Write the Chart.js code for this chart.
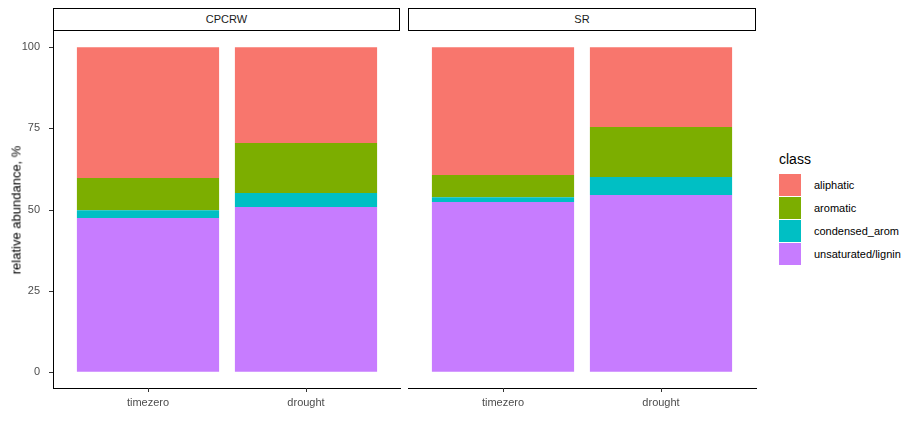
<!DOCTYPE html>
<html>
<head>
<meta charset="utf-8">
<script src="https://cdn.jsdelivr.net/npm/chart.js@4"></script>
<style>
  body { margin: 0; width: 923px; height: 433px; background: #fff; font-family: "Liberation Sans", Arial, sans-serif; position: relative; overflow: hidden; }
  .panel { position: absolute; top: 0; height: 433px; }
  .strip { position: absolute; top: 8px; height: 21px; border: 1.5px solid #000; box-sizing: content-box; background: #fff;
           font-size: 11px; color: #1a1a1a; text-align: center; line-height: 21px; }
  .ytitle { position: absolute; left: 16px; top: 210px; transform: translate(-50%, -50%) rotate(-90deg); font-size: 13px; font-weight: normal; white-space: nowrap; color: #000; }
  .legend { position: absolute; left: 779px; top: 151px; font-size: 11px; color: #000; }
  .legend .title { font-size: 14px; margin-bottom: 6px; }
  .legend .row { display: flex; align-items: center; height: 23px; }
  .legend .key { width: 22px; height: 22px; margin-right: 13px; }
</style>
</head>
<body>
<div class="panel" style="left:0;width:405px"><canvas id="c1" width="405" height="433"></canvas></div>
<div class="panel" style="left:408px;width:352px"><canvas id="c2" width="352" height="433"></canvas></div>
<div class="strip" style="left:53px;width:345px">CPCRW</div>
<div class="strip" style="left:408px;width:346px">SR</div>
<div class="ytitle">relative abundance, %</div>
<div class="legend" id="legend"><div class="title">class</div></div>
<script>
const treatments = ["timezero", "drought"];
const classes = ["unsaturated/lignin", "condensed_arom", "aromatic", "aliphatic"];
const colors = ["#C77CFF", "#00BFC4", "#7CAE00", "#F8766D"];
const legendOrder = ["aliphatic", "aromatic", "condensed_arom", "unsaturated/lignin"];
const yTicks = [0, 25, 50, 75, 100];

// values per class, [timezero, drought]
const cpcrw = {
  "unsaturated/lignin": [47.4, 50.8],
  "condensed_arom": [2.4, 4.3],
  "aromatic": [9.9, 15.4],
  "aliphatic": [40.3, 29.5]
};
const sr = {
  "unsaturated/lignin": [52.3, 54.5],
  "condensed_arom": [1.5, 5.5],
  "aromatic": [6.8, 15.4],
  "aliphatic": [39.4, 24.6]
};

// draws the panel's axis lines across the full panel width (ggplot expansion)
function axisPlugin(x0, x1, drawY) {
  return {
    id: "axes",
    afterDraw(chart) {
      const ctx = chart.ctx, a = chart.chartArea, y = chart.scales.y;
      ctx.save();
      ctx.strokeStyle = "#000";
      ctx.lineWidth = 1;
      ctx.beginPath();
      ctx.moveTo(x0, a.bottom + 0.5); ctx.lineTo(x1, a.bottom + 0.5);
      if (drawY) { ctx.moveTo(x0 + 0.5, a.top); ctx.lineTo(x0 + 0.5, a.bottom + 0.5); }
      ctx.stroke();
      ctx.strokeStyle = "#333";
      ctx.beginPath();
      if (drawY) {
        yTicks.forEach(v => {
          const py = Math.round(y.getPixelForValue(v)) + 0.5;
          ctx.moveTo(x0 - 4, py); ctx.lineTo(x0, py);
        });
      }
      chart.scales.x.ticks.forEach((t, i) => {
        const px = Math.round(chart.scales.x.getPixelForTick(i)) + 0.5;
        ctx.moveTo(px, a.bottom); ctx.lineTo(px, a.bottom + 4);
      });
      ctx.stroke();
      ctx.restore();
    }
  };
}

function makeChart(id, facet, showY, padLeft, yWidth, x0, x1) {
  const datasets = classes.map((c, i) => ({
    label: c,
    data: facet[c],
    backgroundColor: colors[i],
    barPercentage: 0.9,
    categoryPercentage: 1
  }));
  new Chart(document.getElementById(id), {
    type: "bar",
    data: { labels: treatments, datasets: datasets },
    options: {
      responsive: false,
      animation: false,
      layout: { padding: { top: 31, right: 20, left: padLeft, bottom: 0 } },
      plugins: { legend: { display: false }, tooltip: { enabled: false } },
      scales: {
        x: {
          stacked: true,
          afterFit: s => { s.height = 45; },
          ticks: { color: "#4d4d4d", font: { size: 11, family: "Liberation Sans" }, padding: 4, maxRotation: 0 },
          grid: { drawOnChartArea: false, tickLength: 4, color: "rgba(0,0,0,0)" },
          border: { display: false }
        },
        y: {
          display: showY, stacked: true, min: -5, max: 105,
          afterBuildTicks: s => { s.ticks = yTicks.map(v => ({ value: v })); },
          afterFit: s => { s.width = yWidth; },
          ticks: { color: "#4d4d4d", font: { size: 11, family: "Liberation Sans" }, padding: 21 },
          grid: { display: false },
          border: { display: false }
        }
      }
    },
    plugins: [axisPlugin(x0, x1, showY)]
  });
}

makeChart("c1", cpcrw, true, 0, 69, 53, 401);
makeChart("c2", sr, false, 16, 0, 0, 349);

const legend = document.getElementById("legend");
legendOrder.forEach(c => {
  const row = document.createElement("div");
  row.className = "row";
  row.innerHTML = '<div class="key" style="background:' + colors[classes.indexOf(c)] + '"></div>' + c;
  legend.appendChild(row);
});
</script>
</body>
</html>
